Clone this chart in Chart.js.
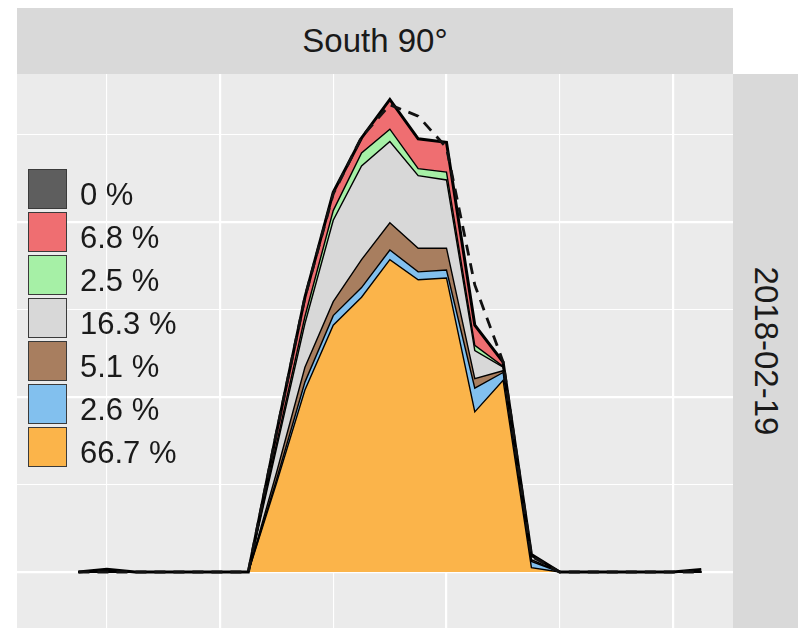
<!DOCTYPE html>
<html lang="en">
<head>
<meta charset="UTF-8">
<title>South 90°</title>
<style>
    body {
        margin: 0;
        background: #ffffff;
        font-family: "Liberation Sans", Arial, sans-serif;
        color: #1a1a1a;
    }
    .wrap {
        position: relative;
        width: 798px;
        height: 628px;
        overflow: hidden;
    }
    #chart {
        position: absolute;
        left: 0;
        top: 0;
    }
    .strip-top {
        position: absolute;
        left: 17px;
        top: 8px;
        width: 716px;
        height: 66px;
        background: #d9d9d9;
        display: flex;
        align-items: center;
        justify-content: center;
        font-size: 33px;
    }
    .strip-right {
        position: absolute;
        left: 733px;
        top: 74px;
        width: 65px;
        height: 554px;
        background: #d9d9d9;
    }
    .strip-right span {
        position: absolute;
        left: 50%;
        top: 50%;
        transform: translate(-50%, -50%) rotate(90deg);
        font-size: 33px;
        white-space: nowrap;
    }
    #legend {
        position: absolute;
        left: 28px;
        top: 167px;
    }
    .row {
        display: flex;
        align-items: center;
        height: 43px;
    }
    .key {
        width: 39px;
        height: 40px;
        border: 1.5px solid #3a3a3a;
        box-sizing: border-box;
    }
    .lab {
        margin-left: 13px;
        font-size: 31px;
        position: relative;
        top: 6px;
    }
</style>
<script src="https://cdn.jsdelivr.net/npm/chart.js"></script>
</head>
<body>
<div class="wrap">
    <canvas id="chart" width="798" height="628"></canvas>
    <div class="strip-top">South 90°</div>
    <div class="strip-right"><span>2018-02-19</span></div>
    <div id="legend"></div>
</div>

<script>
    // time steps (x positions), gridline ticks
    const steps = [3, 4, 5, 6, 7, 8, 9, 10, 11, 12, 13, 14, 15, 16, 17, 18, 19, 20, 21, 22, 23, 24, 25];
    const xTicks = [4, 8, 12, 16, 20, 24];
    const xMajor = [8, 16, 24];
    const yTicks = [0, 100, 200, 300, 400, 500];
    const yMajor = [0, 200, 400];

    // layers, legend order (top of stack first)
    const labels = ['0 %', '6.8 %', '2.5 %', '16.3 %', '5.1 %', '2.6 %', '66.7 %'];
    const colors = ['#5e5e5e', '#ef6e71', '#a6f0a6', '#d8d8d8', '#a87e5f', '#82c0ee', '#fbb44a'];

    const dark   = [0, 3, 0, 0, 0, 0, 0, 0, 0, 0, 0, 0, 0, 0, 0, 0, 0, 0, 0, 0, 0, 0, 3];
    const red    = [0, 0, 0, 0, 0, 0, 0, 13, 22, 21, 17, 34, 34, 34, 23, 5, 1, 0, 0, 0, 0, 0, 0];
    const green  = [0, 0, 0, 0, 0, 0, 0, 5, 8, 11, 15, 14, 8, 9, 6, 1, 1, 0, 0, 0, 0, 0, 0];
    const grey   = [0, 0, 0, 0, 0, 0, 0, 28, 50, 93, 107, 93, 83, 78, 32, 4, 4, 0, 0, 0, 0, 0, 0];
    const brown  = [0, 0, 0, 0, 0, 0, 0, 8, 17, 16, 32, 31, 27, 25, 11, 2, 2, 0, 0, 0, 0, 0, 0];
    const blue   = [0, 0, 0, 0, 0, 0, 0, 4, 9, 11, 11, 11, 9, 9, 27, 9, 7, 0, 0, 0, 0, 0, 0];
    const orange = [0, 0, 0, 0, 0, 0, 0, 102, 208, 282, 314, 357, 334, 336, 183, 219, 5, 0, 0, 0, 0, 0, 0];

    // dashed reference line
    const dashed = [0, 0, 0, 0, 0, 0, 0, 160, 314, 432, 497, 534, 521, 485, 328, 240, 18, 0, 0, 0, 0, 0, 0];

    const layers = [dark, red, green, grey, brown, blue, orange];

    // legend
    const legend = document.getElementById('legend');
    legend.innerHTML = labels.map((l, i) =>
        `<div class="row"><div class="key" style="background:${colors[i]}"></div><span class="lab">${l}</span></div>`
    ).join('');

    // stack from bottom (orange) to top (dark)
    const areaSets = [];
    for (let i = layers.length - 1; i >= 0; i--) {
        const bottom = i === layers.length - 1;
        areaSets.push({
            label: labels[i],
            data: layers[i],
            stack: 'area',
            backgroundColor: colors[i],
            borderColor: '#000000',
            borderWidth: i === 0 ? 3 : 1.4,
            fill: bottom ? 'origin' : '-1'
        });
    }

    new Chart(document.getElementById('chart'), {
        type: 'line',
        data: {
            labels: steps,
            datasets: [{
                label: 'dashed',
                data: dashed,
                stack: 'dash',
                borderColor: '#111111',
                borderWidth: 2.8,
                borderDash: [11, 8],
                fill: false
            }].concat(areaSets)
        },
        options: {
            responsive: false,
            animation: false,
            layout: { padding: { left: 17, right: 65, top: 74, bottom: 0 } },
            elements: {
                point: { radius: 0 },
                line: { tension: 0 }
            },
            plugins: {
                legend: { display: false },
                tooltip: { enabled: false },
                filler: { drawTime: 'beforeDatasetsDraw' }
            },
            scales: {
                x: {
                    type: 'linear',
                    min: 0.83,
                    max: 26.12,
                    afterBuildTicks: s => { s.ticks = xTicks.map(v => ({ value: v })); },
                    afterFit: s => { s.height = 0; },
                    ticks: { display: false },
                    border: { display: false },
                    grid: {
                        color: '#ffffff',
                        drawTicks: false,
                        lineWidth: ctx => xMajor.includes(ctx.tick.value) ? 2.2 : 1.1
                    }
                },
                y: {
                    stacked: true,
                    min: -64,
                    max: 569.1,
                    afterBuildTicks: s => { s.ticks = yTicks.map(v => ({ value: v })); },
                    afterFit: s => { s.width = 0; },
                    ticks: { display: false },
                    border: { display: false },
                    grid: {
                        color: '#ffffff',
                        drawTicks: false,
                        lineWidth: ctx => yMajor.includes(ctx.tick.value) ? 2.2 : 1.1
                    }
                }
            }
        },
        plugins: [{
            id: 'panelBg',
            beforeDraw(chart) {
                const a = chart.chartArea;
                const c = chart.ctx;
                c.save();
                c.fillStyle = '#ebebeb';
                c.fillRect(a.left, a.top, a.right - a.left, a.bottom - a.top);
                c.restore();
            }
        }]
    });
</script>
</body>
</html>
